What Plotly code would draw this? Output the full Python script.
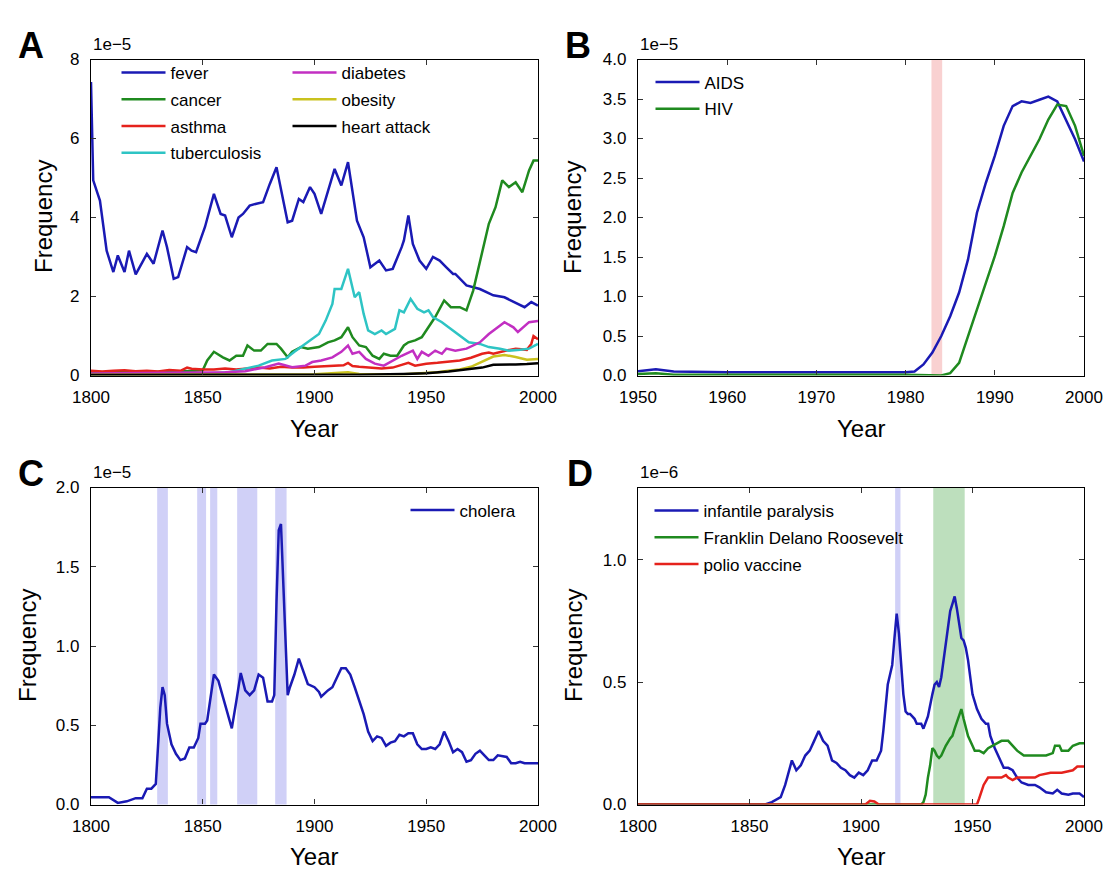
import plotly.graph_objects as go

# ---------------- Panel A (units of 1e-5) ----------------
fever_years = [1800, 1801, 1803, 1804, 1807, 1810, 1812, 1815, 1817, 1820, 1823, 1825, 1828, 1832, 1834, 1837,
               1839, 1843, 1845, 1847, 1851, 1855, 1858, 1860, 1863, 1866, 1868, 1871, 1874, 1877, 1880, 1883,
               1888, 1890, 1893, 1895, 1898, 1900, 1903, 1906, 1909, 1912, 1915, 1919, 1922, 1925, 1929, 1932,
               1935, 1939, 1940, 1942, 1944, 1947, 1950, 1953, 1956, 1959, 1962, 1963, 1968, 1974, 1980, 1985,
               1989, 1994, 1997, 2000]
fever_vals = [7.43, 4.94, 4.6, 4.43, 3.16, 2.62, 3.04, 2.62, 3.16, 2.56, 2.87, 3.08, 2.83, 3.67, 3.25, 2.45,
              2.49, 3.25, 3.16, 3.12, 3.76, 4.6, 4.09, 4.05, 3.5, 4.0, 4.09, 4.3, 4.35, 4.39, 4.85, 5.27,
              3.88, 3.92, 4.47, 4.39, 4.77, 4.6, 4.09, 4.68, 5.23, 4.81, 5.4, 3.92, 3.5, 2.74, 2.91, 2.66,
              2.7, 3.25, 3.42, 4.05, 3.33, 2.91, 2.7, 3.0, 2.91, 2.74, 2.57, 2.57, 2.28, 2.19, 2.03, 1.98,
              1.86, 1.73, 1.86, 1.77]

cancer_years = [1800, 1820, 1840, 1850, 1852, 1855, 1859, 1862, 1865, 1868, 1870, 1873, 1876, 1879, 1883, 1885,
                1888, 1890, 1894, 1897, 1902, 1906, 1909, 1912, 1915, 1917, 1920, 1923, 1926, 1929, 1931, 1934,
                1937, 1940, 1942, 1945, 1948, 1951, 1954, 1958, 1961, 1965, 1968, 1971, 1975, 1978, 1981, 1984,
                1987, 1990, 1993, 1996, 1998, 2000]
cancer_vals = [0.08, 0.08, 0.1, 0.13, 0.38, 0.6, 0.46, 0.38, 0.5, 0.5, 0.76, 0.63, 0.63, 0.8, 0.8, 0.68,
               0.46, 0.6, 0.72, 0.68, 0.72, 0.84, 0.89, 0.97, 1.22, 0.97, 0.76, 0.72, 0.5, 0.42, 0.55, 0.5,
               0.5, 0.76, 0.84, 0.89, 0.97, 1.22, 1.48, 1.9, 1.73, 1.73, 1.65, 2.15, 3.16, 3.84, 4.26, 4.94,
               4.77, 4.89, 4.64, 5.19, 5.44, 5.44]

asthma_years = [1800, 1805, 1810, 1815, 1820, 1825, 1830, 1835, 1840, 1843, 1845, 1850, 1855, 1860, 1865, 1870,
                1875, 1880, 1885, 1890, 1895, 1900, 1905, 1910, 1913, 1915, 1917, 1920, 1925, 1930, 1935, 1940,
                1942, 1945, 1950, 1955, 1960, 1965, 1970, 1975, 1978, 1980, 1985, 1990, 1995, 1997, 1998, 2000]
asthma_vals = [0.12, 0.1, 0.12, 0.13, 0.11, 0.12, 0.1, 0.14, 0.12, 0.2, 0.17, 0.15, 0.15, 0.18, 0.15, 0.17,
               0.2, 0.18, 0.22, 0.2, 0.2, 0.22, 0.23, 0.24, 0.26, 0.32, 0.24, 0.22, 0.2, 0.18, 0.2, 0.28,
               0.32, 0.25, 0.3, 0.32, 0.35, 0.38, 0.45, 0.55, 0.58, 0.55, 0.62, 0.68, 0.65, 0.8, 1.0, 0.92]

tb_years = [1800, 1830, 1850, 1862, 1869, 1875, 1881, 1887, 1891, 1896, 1899, 1902, 1905, 1908, 1909, 1912,
            1915, 1918, 1920, 1922, 1924, 1927, 1930, 1932, 1936, 1938, 1940, 1943, 1946, 1949, 1951, 1953,
            1957, 1961, 1965, 1969, 1974, 1978, 1983, 1987, 1992, 1996, 2000]
tb_vals = [0.03, 0.04, 0.05, 0.08, 0.17, 0.25, 0.38, 0.42, 0.6, 0.8, 0.93, 1.05, 1.39, 1.81, 2.19, 2.19,
           2.7, 1.98, 2.11, 1.56, 1.14, 1.05, 1.14, 1.05, 1.18, 1.65, 1.6, 1.94, 1.69, 1.6, 1.65, 1.48,
           1.35, 1.18, 1.01, 0.84, 0.8, 0.72, 0.68, 0.63, 0.65, 0.68, 0.8]

diab_years = [1800, 1850, 1860, 1869, 1878, 1884, 1890, 1896, 1899, 1903, 1908, 1912, 1915, 1917, 1920, 1923,
              1927, 1931, 1935, 1939, 1944, 1946, 1948, 1951, 1954, 1957, 1959, 1963, 1968, 1971, 1974, 1978,
              1981, 1985, 1989, 1991, 1996, 2000]
diab_vals = [0.05, 0.06, 0.08, 0.11, 0.21, 0.3, 0.21, 0.25, 0.34, 0.38, 0.46, 0.6, 0.76, 0.55, 0.6, 0.42,
             0.3, 0.25, 0.38, 0.5, 0.63, 0.42, 0.6, 0.5, 0.63, 0.55, 0.68, 0.63, 0.68, 0.76, 0.84, 1.05,
             1.18, 1.35, 1.22, 1.1, 1.35, 1.38]

obes_years = [1800, 1900, 1915, 1920, 1940, 1945, 1950, 1955, 1960, 1965, 1970, 1975, 1980, 1985, 1990, 1995, 2000]
obes_vals = [0.02, 0.03, 0.08, 0.04, 0.03, 0.05, 0.06, 0.08, 0.12, 0.15, 0.22, 0.35, 0.48, 0.52, 0.47, 0.4, 0.42]

heart_years = [1800, 1900, 1920, 1940, 1950, 1960, 1965, 1970, 1975, 1980, 1985, 1990, 1995, 2000]
heart_vals = [0.01, 0.01, 0.02, 0.04, 0.06, 0.1, 0.13, 0.16, 0.2, 0.27, 0.27, 0.28, 0.29, 0.31]

# ---------------- Panel B (units of 1e-5) ----------------
aids_years = [1950, 1952, 1954, 1960, 1970, 1980, 1981, 1982, 1983, 1984, 1985, 1986, 1987, 1988, 1989, 1990,
              1991, 1992, 1993, 1994, 1995, 1996, 1997, 1998, 1999, 2000]
aids_vals = [0.055, 0.08, 0.05, 0.04, 0.04, 0.04, 0.05, 0.14, 0.29, 0.5, 0.75, 1.05, 1.47, 2.06, 2.44, 2.78,
             3.16, 3.41, 3.47, 3.45, 3.49, 3.53, 3.47, 3.24, 2.99, 2.71]
hiv_years = [1950, 1952, 1954, 1960, 1970, 1980, 1984, 1985, 1986, 1987, 1988, 1989, 1990, 1991, 1992, 1993,
             1994, 1995, 1996, 1997, 1998, 1999, 2000]
hiv_vals = [0.02, 0.03, 0.01, 0.01, 0.01, 0.01, 0.0, 0.03, 0.16, 0.5, 0.84, 1.17, 1.51, 1.89, 2.31, 2.57,
            2.78, 2.99, 3.24, 3.43, 3.41, 3.16, 2.78]
b_bands = [(1982.9, 1984.1)]

# ---------------- Panel C (units of 1e-5) ----------------
cholera_years = [1800, 1808, 1812, 1816, 1820, 1823, 1825, 1827, 1829, 1830, 1831, 1832, 1833, 1834, 1836, 1838,
                 1840, 1842, 1844, 1846, 1848, 1849, 1851, 1852, 1854, 1855, 1857, 1860, 1863, 1865, 1867, 1869,
                 1871, 1873, 1875, 1877, 1879, 1881, 1882, 1883, 1884, 1885, 1886, 1887, 1888, 1889, 1891, 1893,
                 1895, 1897, 1900, 1902, 1903, 1906, 1908, 1910, 1912, 1914, 1916, 1918, 1920, 1922, 1924, 1926,
                 1928, 1930, 1932, 1934, 1936, 1938, 1940, 1942, 1944, 1946, 1948, 1950, 1952, 1954, 1956, 1958,
                 1960, 1962, 1964, 1966, 1968, 1970, 1972, 1974, 1976, 1978, 1980, 1982, 1986, 1988, 1990, 1992,
                 1994, 1996, 2000]
cholera_vals = [0.046, 0.046, 0.01, 0.02, 0.04, 0.04, 0.1, 0.1, 0.13, 0.36, 0.61, 0.74, 0.69, 0.51, 0.38, 0.32,
                0.28, 0.29, 0.36, 0.36, 0.42, 0.51, 0.51, 0.53, 0.72, 0.82, 0.78, 0.63, 0.48, 0.65, 0.83, 0.72,
                0.69, 0.72, 0.82, 0.8, 0.65, 0.65, 0.69, 1.28, 1.73, 1.77, 1.41, 0.95, 0.69, 0.74, 0.82, 0.92,
                0.84, 0.76, 0.74, 0.71, 0.68, 0.72, 0.74, 0.8, 0.86, 0.86, 0.82, 0.74, 0.65, 0.57, 0.46, 0.4,
                0.43, 0.42, 0.37, 0.39, 0.4, 0.44, 0.43, 0.45, 0.45, 0.38, 0.35, 0.35, 0.36, 0.35, 0.38, 0.46,
                0.4, 0.33, 0.35, 0.33, 0.27, 0.28, 0.32, 0.34, 0.31, 0.28, 0.28, 0.31, 0.3, 0.26, 0.26, 0.27,
                0.26, 0.26, 0.26]
c_bands = [(1829.6, 1834.4), (1847.5, 1851.5), (1853.3, 1856.5), (1865.4, 1874.4), (1882.4, 1887.5)]

# ---------------- Panel D (units of 1e-6) ----------------
ip_years = [1800, 1857, 1860, 1862, 1864, 1866, 1868, 1869, 1871, 1873, 1875, 1877, 1879, 1881, 1883, 1885,
            1887, 1889, 1891, 1893, 1895, 1897, 1899, 1901, 1903, 1905, 1907, 1909, 1910, 1911, 1912, 1913,
            1914, 1915, 1916, 1917, 1918, 1919, 1920, 1921, 1922, 1924, 1925, 1927, 1928, 1930, 1932, 1933,
            1934, 1935, 1936, 1937, 1938, 1939, 1940, 1941, 1942, 1943, 1944, 1945, 1946, 1947, 1948, 1949,
            1950, 1952, 1954, 1956, 1957, 1958, 1960, 1962, 1964, 1966, 1968, 1970, 1972, 1975, 1978, 1980,
            1983, 1986, 1988, 1990, 1993, 1995, 1998, 2000]
ip_vals = [0.0, 0.0, 0.01, 0.02, 0.03, 0.08, 0.14, 0.18, 0.14, 0.16, 0.2, 0.22, 0.26, 0.3, 0.26, 0.24,
           0.18, 0.17, 0.15, 0.14, 0.12, 0.11, 0.13, 0.12, 0.14, 0.18, 0.18, 0.22, 0.3, 0.41, 0.49, 0.53,
           0.57, 0.68, 0.78, 0.7, 0.57, 0.45, 0.38, 0.37, 0.37, 0.35, 0.33, 0.33, 0.31, 0.36, 0.45, 0.49,
           0.5, 0.48, 0.52, 0.59, 0.65, 0.74, 0.79, 0.82, 0.85, 0.8, 0.74, 0.68, 0.67, 0.64, 0.59, 0.52,
           0.45, 0.39, 0.35, 0.33, 0.33, 0.28, 0.23, 0.19, 0.15, 0.15, 0.14, 0.11, 0.09, 0.08, 0.08, 0.07,
           0.05, 0.045, 0.06, 0.045, 0.04, 0.045, 0.045, 0.03]
fdr_years = [1800, 1927, 1928, 1929, 1930, 1931, 1932, 1933, 1934, 1935, 1936, 1938, 1940, 1941, 1942, 1943,
             1944, 1945, 1946, 1947, 1948, 1950, 1951, 1953, 1955, 1957, 1959, 1961, 1963, 1966, 1968, 1970,
             1973, 1976, 1978, 1980, 1983, 1986, 1987, 1989, 1990, 1993, 1995, 1998, 2000]
fdr_vals = [0.0, 0.0, 0.01, 0.04, 0.11, 0.16, 0.23, 0.22, 0.2, 0.19, 0.2, 0.24, 0.27, 0.28, 0.31, 0.34,
            0.37, 0.39, 0.35, 0.32, 0.28, 0.24, 0.22, 0.22, 0.21, 0.23, 0.24, 0.25, 0.26, 0.26, 0.24, 0.22,
            0.2, 0.2, 0.2, 0.2, 0.2, 0.21, 0.24, 0.24, 0.22, 0.22, 0.24, 0.25, 0.25]
polio_years = [1800, 1902, 1904, 1906, 1908, 1952, 1953, 1954, 1955, 1957, 1960, 1963, 1965, 1966, 1968, 1970,
               1972, 1975, 1978, 1980, 1985, 1990, 1995, 1997, 2000]
polio_vals = [0.0, 0.0, 0.015, 0.012, 0.0, 0.0, 0.025, 0.05, 0.08, 0.11, 0.11, 0.11, 0.12, 0.11, 0.1, 0.11,
              0.11, 0.11, 0.11, 0.12, 0.13, 0.13, 0.14, 0.155, 0.155]
d_blue_bands = [(1915.3, 1917.7)]
d_green_bands = [(1932.4, 1946.5)]

# ---------------- styling ----------------
FONT = "Liberation Sans, Arial, sans-serif"
BLUE = "#1a1ab4"
GREEN = "#1f8a1f"
RED = "#e5221c"
CYAN = "#2ec4c4"
MAGENTA = "#c22fc2"
YELLOW = "#c9c21e"
BLACK = "#000000"
LW = 2.5

W, H = 1120, 896
def px_x(p):
    return p / W
def px_y(p):
    return 1 - p / H

fig = go.Figure()

def add_line(x, y, name, color, xa, ya, legend):
    fig.add_trace(go.Scatter(
        x=x, y=y, name=name, mode="lines",
        line=dict(color=color, width=LW),
        xaxis=xa, yaxis=ya, legend=legend, legendgroup=name,
        hoverinfo="skip"))

add_line(fever_years, fever_vals, "fever", BLUE, "x", "y", "legend")
add_line(cancer_years, cancer_vals, "cancer", GREEN, "x", "y", "legend")
add_line(asthma_years, asthma_vals, "asthma", RED, "x", "y", "legend")
add_line(tb_years, tb_vals, "tuberculosis", CYAN, "x", "y", "legend")
add_line(diab_years, diab_vals, "diabetes", MAGENTA, "x", "y", "legend2")
add_line(obes_years, obes_vals, "obesity", YELLOW, "x", "y", "legend2")
add_line(heart_years, heart_vals, "heart attack", BLACK, "x", "y", "legend2")

add_line(aids_years, aids_vals, "AIDS", BLUE, "x2", "y2", "legend3")
add_line(hiv_years, hiv_vals, "HIV", GREEN, "x2", "y2", "legend3")

add_line(cholera_years, cholera_vals, "cholera", BLUE, "x3", "y3", "legend4")

add_line(ip_years, ip_vals, "infantile paralysis", BLUE, "x4", "y4", "legend5")
add_line(fdr_years, fdr_vals, "Franklin Delano Roosevelt", GREEN, "x4", "y4", "legend5")
add_line(polio_years, polio_vals, "polio vaccine", RED, "x4", "y4", "legend5")

shapes = []
def bands(lst, xref, yref, color):
    for a, b in lst:
        shapes.append(dict(type="rect", xref=xref, yref=yref + " domain", x0=a, x1=b, y0=0, y1=1,
                           fillcolor=color, line=dict(width=0), layer="below"))
bands(b_bands, "x2", "y2", "rgba(240,140,140,0.4)")
bands(c_bands, "x3", "y3", "rgba(100,100,230,0.3)")
bands(d_blue_bands, "x4", "y4", "rgba(100,100,230,0.3)")
bands(d_green_bands, "x4", "y4", "rgba(90,175,90,0.4)")

# axis domains (pixels -> paper)
colA = [px_x(91), px_x(538)]
colB = [px_x(638), px_x(1084)]
rowTop = [px_y(375.5), px_y(59.5)]
rowBot = [px_y(804.5), px_y(487.5)]

tickfont = dict(family=FONT, size=17, color="black")

def xaxis(domain, anchor, rng, dtick):
    return dict(domain=domain, anchor=anchor, range=rng, dtick=dtick, tick0=rng[0], automargin=False,
                showgrid=False, zeroline=False, showline=True, linecolor="black", linewidth=1.3,
                mirror="ticks", ticks="inside", ticklen=5, tickwidth=1.2, tickcolor="#333",
                tickfont=tickfont, ticklabelstandoff=6)

def yaxis(domain, anchor, rng, dtick, fmt):
    return dict(domain=domain, anchor=anchor, range=rng, dtick=dtick, tick0=0, tickformat=fmt,
                automargin=False,
                showgrid=False, zeroline=False, showline=True, linecolor="black", linewidth=1.3,
                mirror="ticks", ticks="inside", ticklen=5, tickwidth=1.2, tickcolor="#333",
                tickfont=tickfont, ticklabelstandoff=7)

legend_common = dict(bgcolor="rgba(0,0,0,0)", font=dict(family=FONT, size=17, color="black"),
                     itemwidth=44, tracegroupgap=1.6, traceorder="grouped",
                     xanchor="left", yanchor="top", itemclick=False, itemdoubleclick=False)

def leg(xpx, ypx):
    d = dict(legend_common)
    d.update(x=px_x(xpx), y=px_y(ypx), xref="paper", yref="paper")
    return d

annotations = []
def ann(text, xpx, ypx, size, bold=False, xanchor="center", angle=0):
    annotations.append(dict(text=("<b>%s</b>" % text) if bold else text, x=px_x(xpx), y=px_y(ypx),
                            xref="paper", yref="paper", showarrow=False, xanchor=xanchor, yanchor="middle",
                            textangle=angle, font=dict(family=FONT, size=size, color="black")))

for letter, (lx, ly) in {"A": (31, 45), "B": (578, 45), "C": (31, 474), "D": (580, 473)}.items():
    ann(letter, lx, ly, 36, bold=True)
ann("1e\u22125", 91, 44, 17, xanchor="left")
ann("1e\u22125", 638, 44, 17, xanchor="left")
ann("1e\u22125", 91, 472, 17, xanchor="left")
ann("1e\u22126", 638, 472, 17, xanchor="left")

# axis titles
for cx, cy in [(314.5, 428), (861, 428), (314.5, 856), (861, 856)]:
    ann("Year", cx, cy, 24)
for cx, cy in [(43, 217), (573, 218), (27, 646), (573, 646)]:
    ann("Frequency", cx, cy, 24, angle=-90)

fig.update_layout(
    template="none",
    width=W, height=H, autosize=False,
    margin=dict(l=0, r=0, t=0, b=0, pad=0),
    paper_bgcolor="white", plot_bgcolor="white",
    font=dict(family=FONT, color="black"),
    showlegend=True,
    xaxis=xaxis(colA, "y", [1800, 2000], 50),
    yaxis=yaxis(rowTop, "x", [0, 8], 2, "d"),
    xaxis2=xaxis(colB, "y2", [1950, 2000], 10),
    yaxis2=yaxis(rowTop, "x2", [0, 4], 0.5, ".1f"),
    xaxis3=xaxis(colA, "y3", [1800, 2000], 50),
    yaxis3=yaxis(rowBot, "x3", [0, 2], 0.5, ".1f"),
    xaxis4=xaxis(colB, "y4", [1800, 2000], 50),
    yaxis4=yaxis(rowBot, "x4", [0, 1.295], 0.5, ".1f"),
    legend=leg(116.5, 55),
    legend2=leg(287.5, 55),
    legend3=leg(650.5, 64.5),
    legend4=leg(405.5, 492.5),
    legend5=leg(649.5, 493),
    shapes=shapes,
    annotations=annotations,
)

fig.write_html("out.html")
